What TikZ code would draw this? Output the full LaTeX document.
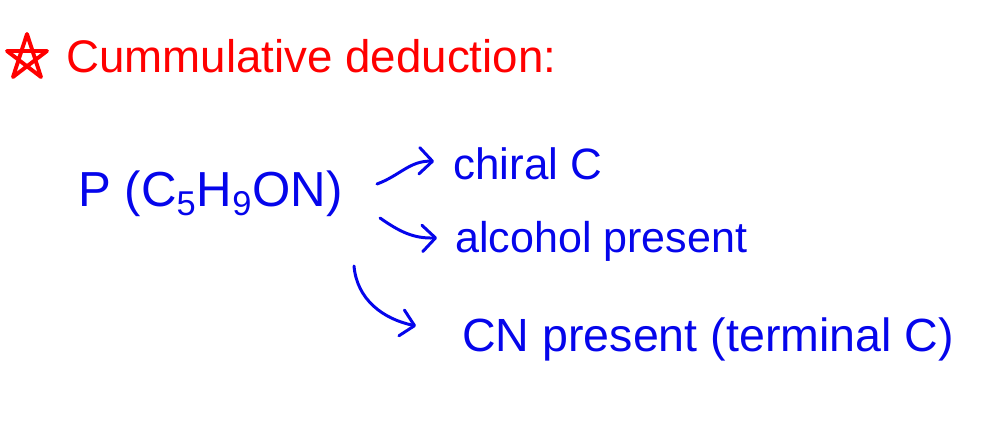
\documentclass[tikz,border=0pt]{standalone}
\usepackage{fontspec}
\setmainfont{Liberation Sans}
\usetikzlibrary{arrows.meta,calc}
\definecolor{inkred}{RGB}{255,0,0}
\definecolor{inkblue}{RGB}{5,5,235}
\tikzset{
  txt/.style={inkblue, inner sep=0pt, anchor=base west},
  arr/.style={inkblue, line width=1.7pt, line cap=round,
    -{Straight Barb[length=7.5pt,width=15pt,line width=1.7pt,round]}},
  starline/.style={inkred, line width=2.2pt, line join=round, line cap=round}
}
\begin{document}
\begin{tikzpicture}[x=0.02cm,y=-0.02cm]
\useasboundingbox (0,0) rectangle (998,421);
% star
\coordinate (sc) at (27,57);
\draw[starline] ($(sc)+(0,-23)$) -- ($(sc)+(14,20)$) -- ($(sc)+(-20,-6)$) -- ($(sc)+(20,-6)$) -- ($(sc)+(-14,20)$) -- cycle;
% title
\node[txt, inkred, font=\fontsize{26}{30}\selectfont] (title) at (66,73) {Cummulative deduction:};
% formula
\node[txt, font=\fontsize{28}{32}\selectfont] (formula) at (78,207) {P (C\textsubscript{5}H\textsubscript{9}ON)};
% results
\node[txt, font=\fontsize{25}{30}\selectfont] (chiral) at (453,180) {chiral C};
\node[txt, font=\fontsize{24.5}{30}\selectfont] (alcohol) at (455,253) {alcohol present};
\node[txt, font=\fontsize{26.5}{30}\selectfont] (cn) at (462,352) {CN present (terminal C)};
% arrows
\coordinate (s1) at (377,184);
\coordinate (s2) at (380,218);
\coordinate (s3) at (354,266);
\draw[arr] (s1) to[out=20,in=178] ($(chiral.west)+(-19,-3)$);
\draw[arr] (s2) to[out=-35,in=182] ($(alcohol.west)+(-18,-4)$);
\draw[arr] (s3) to[out=-85,in=168] ($(cn.west)+(-46,-14)$);
\end{tikzpicture}
\end{document}
